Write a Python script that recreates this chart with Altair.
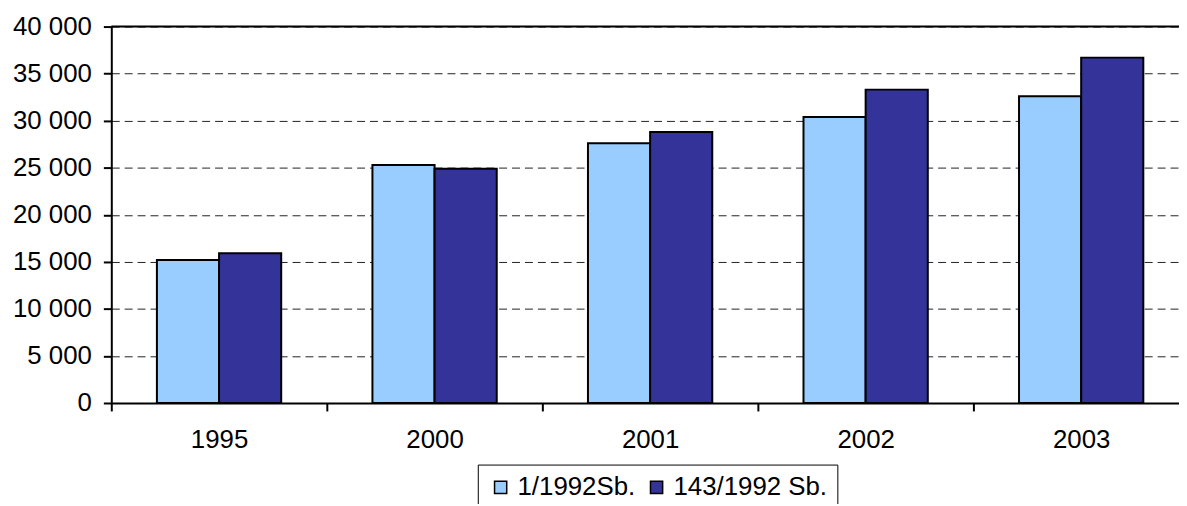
import altair as alt
import pandas as pd

years = ["1995", "2000", "2001", "2002", "2003"]
series_names = ["1/1992Sb.", "143/1992 Sb."]
s1 = [15200, 25300, 27600, 30400, 32600]
s2 = [15900, 24900, 28800, 33300, 36700]
colors = ["#99CCFF", "#333399"]

rows = []
for y, a, b in zip(years, s1, s2):
    rows.append({"year": y, "series": series_names[0], "value": a})
    rows.append({"year": y, "series": series_names[1], "value": b})
df = pd.DataFrame(rows)

FONT = "Liberation Sans"
FS = 26

bars = alt.Chart(df).mark_bar(stroke="black", strokeWidth=2).encode(
    x=alt.X("year:N", sort=years, title=None,
            scale=alt.Scale(range=[0, 1085], paddingInner=0, paddingOuter=0),
            axis=alt.Axis(labelAngle=0, tickBand="extent", tickSize=8, tickWidth=2,
                          tickColor="black", domainColor="black", domainWidth=2,
                          labelFontSize=FS, labelFont=FONT, labelColor="black",
                          labelPadding=16, grid=False)),
    xOffset=alt.XOffset("series:N", sort=series_names,
                        scale=alt.Scale(paddingInner=0, paddingOuter=0.734)),
    y=alt.Y("value:Q", title=None,
            scale=alt.Scale(domain=[0, 40000], nice=False),
            axis=alt.Axis(values=[0, 5000, 10000, 15000, 20000, 25000, 30000, 35000, 40000],
                          labelExpr="replace(format(datum.value, ','), ',', ' ')",
                          tickSize=8, tickWidth=2, tickColor="black",
                          domainColor="black", domainWidth=2,
                          labelFontSize=FS, labelFont=FONT, labelColor="black",
                          labelPadding=12,
                          grid=True, gridColor="#222222", gridDash=[8, 5], gridWidth=1)),
    color=alt.Color("series:N", sort=series_names,
                    scale=alt.Scale(domain=series_names, range=colors),
                    legend=alt.Legend(title=None, orient="none", direction="horizontal",
                                      legendX=369, legendY=441,
                                      strokeColor="black", padding=10,
                                      symbolType="square", symbolSize=150,
                                      symbolStrokeColor="black", symbolStrokeWidth=1.5,
                                      symbolOpacity=1,
                                      labelFontSize=FS, labelFont=FONT, labelColor="black",
                                      labelOffset=4, columnPadding=8,
                                      labelLimit=300)),
)

top_rule = alt.Chart(pd.DataFrame({"v": [40000]})).mark_rule(
    color="black", strokeWidth=2).encode(y="v:Q")

chart = alt.layer(bars, top_rule).properties(
    width=1075, height=379,
    autosize=alt.AutoSizeParams(type="none"),
    padding={"left": 104, "top": 17, "right": 0, "bottom": 100},
).configure_view(stroke=None).configure(background="white")

chart.save("out.html", embed_options={"renderer": "svg", "actions": False})
